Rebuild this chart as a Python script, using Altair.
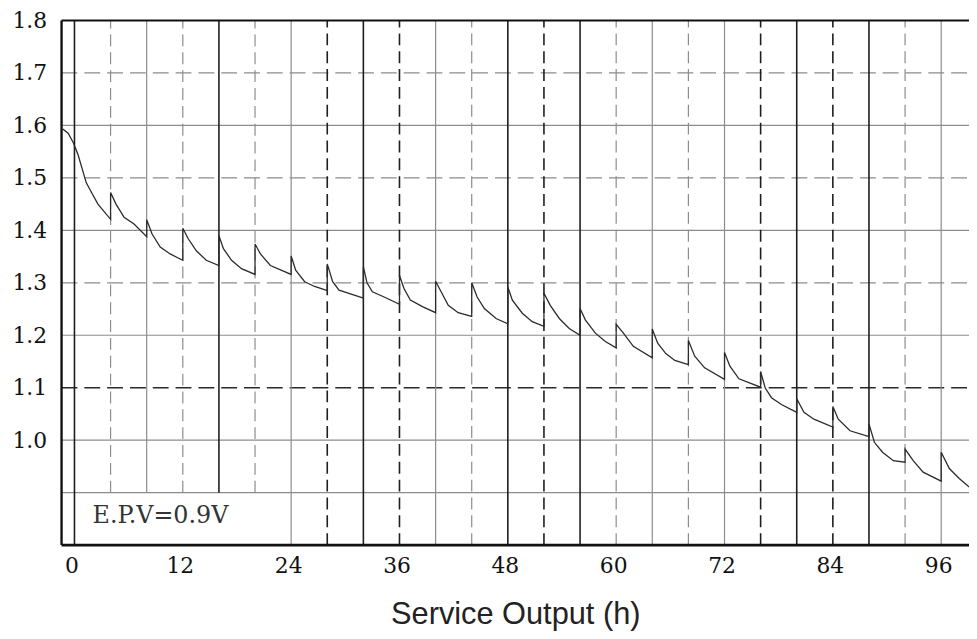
import altair as alt
import pandas as pd

# ---- curve: service output (h) vs voltage (V) ----
hours = [
    -1.3, -0.7, -0.1, 0.4, 1.3, 1.8, 2.6, 4.0,
    4.0, 4.6, 5.5, 6.6, 8.0,
    8.0, 8.6, 9.5, 10.6, 12.0,
    12.0, 12.6, 13.5, 14.6, 16.0,
    16.0, 16.5, 17.4, 18.5, 20.0,
    20.0, 20.6, 21.7, 24.0,
    24.0, 24.5, 25.5, 26.6, 28.0,
    28.0, 28.6, 29.3, 30.4, 32.0,
    32.0, 32.4, 33.0, 34.3, 36.0,
    36.0, 36.5, 37.2, 38.6, 40.0,
    40.0, 40.7, 41.4, 42.5, 44.0,
    44.0, 44.6, 45.4, 46.7, 48.0,
    48.0, 48.5, 49.6, 50.7, 52.0,
    52.0, 52.7, 53.7, 54.8, 56.0,
    56.0, 56.6, 57.7, 58.8, 60.0,
    60.0, 60.8, 61.9, 64.0,
    64.0, 64.6, 65.5, 66.5, 68.0,
    68.0, 68.7, 69.8, 72.0,
    72.0, 72.6, 73.6, 76.0,
    76.0, 76.5, 77.2, 78.3, 80.0,
    80.0, 80.8, 81.9, 84.0,
    84.0, 84.6, 85.9, 88.0,
    88.0, 88.6, 89.5, 90.7, 92.0,
    92.0, 92.9, 94.0, 96.0,
    96.0, 96.9, 98.0, 99.1,
]
volts = [
    1.593, 1.585, 1.566, 1.544, 1.491, 1.475, 1.450, 1.421,
    1.472, 1.450, 1.425, 1.412, 1.388,
    1.420, 1.393, 1.368, 1.355, 1.343,
    1.404, 1.384, 1.361, 1.343, 1.333,
    1.390, 1.365, 1.343, 1.327, 1.316,
    1.374, 1.355, 1.333, 1.316,
    1.351, 1.324, 1.302, 1.293, 1.285,
    1.336, 1.302, 1.286, 1.280, 1.271,
    1.331, 1.300, 1.283, 1.273, 1.259,
    1.314, 1.289, 1.267, 1.254, 1.243,
    1.303, 1.280, 1.257, 1.243, 1.236,
    1.300, 1.273, 1.251, 1.232, 1.222,
    1.292, 1.267, 1.242, 1.226, 1.217,
    1.280, 1.257, 1.232, 1.213, 1.200,
    1.251, 1.229, 1.204, 1.188, 1.176,
    1.221, 1.204, 1.179, 1.157,
    1.212, 1.185, 1.165, 1.152, 1.144,
    1.190, 1.160, 1.138, 1.116,
    1.167, 1.141, 1.117, 1.101,
    1.131, 1.100, 1.081, 1.068, 1.053,
    1.079, 1.053, 1.040, 1.025,
    1.064, 1.040, 1.018, 1.007,
    1.031, 0.996, 0.977, 0.961, 0.958,
    0.983, 0.961, 0.939, 0.922,
    0.977, 0.946, 0.927, 0.911,
]

# ---- grid ----
grid_hours = list(range(0, 97, 4))
grid_hour_style = ["sk", "dg", "sg", "dg", "sk", "dg", "sg", "dk", "sk", "dk",
                   "sg", "dg", "sk", "dk", "sk", "dg", "sg", "dg", "sg", "dk",
                   "sk", "dk", "sk", "dg", "sg"]
grid_hour_low = [0.8, 0.9, 0.9, 0.9, 0.9, 0.9] + [0.8] * 19
grid_volts = [1.7, 1.6, 1.5, 1.4, 1.3, 1.2, 1.1, 1.0, 0.9]
grid_volt_style = ["dg", "sg", "dg", "sg", "dg", "sg", "dk", "sg", "sg"]

x_labels = [0, 12, 24, 36, 48, 60, 72, 84, 96]
y_labels = [1.0, 1.1, 1.2, 1.3, 1.4, 1.5, 1.6, 1.7, 1.8]
note = "E.P.V=0.9V"
note_h, note_v = 2.0, 0.855

X_MIN, X_MAX = -1.43, 99.08
Y_MIN, Y_MAX = 0.8, 1.8

STYLES = {
    "sk": dict(color="#1e1e1e", strokeWidth=1.6),
    "sg": dict(color="#8c8c8c", strokeWidth=1.2),
    "dk": dict(color="#1e1e1e", strokeWidth=1.6, strokeDash=[12, 6]),
    "dg": dict(color="#8c8c8c", strokeWidth=1.2, strokeDash=[12, 6]),
}
HSTYLES = {
    "sg": dict(color="#8c8c8c", strokeWidth=1.2),
    "dg": dict(color="#8c8c8c", strokeWidth=1.2, strokeDash=[16, 7]),
    "dk": dict(color="#2a2a2a", strokeWidth=1.5, strokeDash=[16, 7]),
}

xs = alt.Scale(domain=[X_MIN, X_MAX], nice=False, zero=False)
ys = alt.Scale(domain=[Y_MIN, Y_MAX], nice=False, zero=False)

xaxis = alt.Axis(values=x_labels, grid=False, domain=False, ticks=False,
                 labelFont="DejaVu Serif", labelFontSize=22, labelColor="#111",
                 labelPadding=11, labelFlush=False, labelOffset=-3,
                 titleFont="Liberation Sans", titleFontSize=31,
                 titleFontWeight="normal", titleColor="#222", titlePadding=23)
yaxis = alt.Axis(values=y_labels, format=".1f", grid=False, domain=False,
                 ticks=False, labelFont="DejaVu Serif", labelFontSize=22,
                 labelColor="#111", labelPadding=15)
XT = "Service Output (h)"


def X(field):
    return alt.X(field, type="quantitative", scale=xs, axis=xaxis, title=XT)


def Y(field):
    return alt.Y(field, type="quantitative", scale=ys, axis=yaxis, title=None)


vdf = pd.DataFrame({"h": grid_hours, "style": grid_hour_style,
                    "low": grid_hour_low, "high": Y_MAX})
hdf = pd.DataFrame({"v": grid_volts, "style": grid_volt_style,
                    "x0": X_MIN, "x1": X_MAX})

layers = []
for key, st in HSTYLES.items():
    d = hdf[hdf["style"] == key]
    layers.append(alt.Chart(d).mark_rule(**st).encode(
        x=X("x0"), x2="x1", y=Y("v")))
for key, st in STYLES.items():
    d = vdf[vdf["style"] == key]
    layers.append(alt.Chart(d).mark_rule(**st).encode(
        x=X("h"), y=Y("low"), y2="high"))

curve = pd.DataFrame({"h": hours, "v": volts, "i": range(len(hours))})
layers.append(alt.Chart(curve).mark_line(color="#2b2b2b", strokeWidth=1.3).encode(
    x=X("h"), y=Y("v"), order="i:Q"))

# frame: top, bottom, left
frame_h = pd.DataFrame({"v": [Y_MAX, Y_MIN], "x0": X_MIN, "x1": X_MAX})
layers.append(alt.Chart(frame_h.iloc[[0]]).mark_rule(color="#111", strokeWidth=2.2).encode(
    x=X("x0"), x2="x1", y=Y("v")))
layers.append(alt.Chart(frame_h.iloc[[1]]).mark_rule(color="#111", strokeWidth=2.8).encode(
    x=X("x0"), x2="x1", y=Y("v")))
frame_v = pd.DataFrame({"h": [X_MIN], "low": [Y_MIN], "high": [Y_MAX]})
layers.append(alt.Chart(frame_v).mark_rule(color="#111", strokeWidth=2.4).encode(
    x=X("h"), y=Y("low"), y2="high"))

ndf = pd.DataFrame({"h": [note_h], "v": [note_v], "t": [note]})
layers.append(alt.Chart(ndf).mark_text(font="DejaVu Serif", fontSize=24,
                                       color="#333", align="left",
                                       baseline="middle").encode(
    x=X("h"), y=Y("v"), text="t:N"))

chart = alt.layer(*layers).properties(
    width=915, height=529,
    autosize=alt.AutoSizeParams(type="none"),
    padding={"left": 54, "top": 10, "right": 0, "bottom": 84},
    background="white",
).configure_view(stroke=None)

chart.save("out.html", embed_options={"renderer": "svg", "actions": False})
